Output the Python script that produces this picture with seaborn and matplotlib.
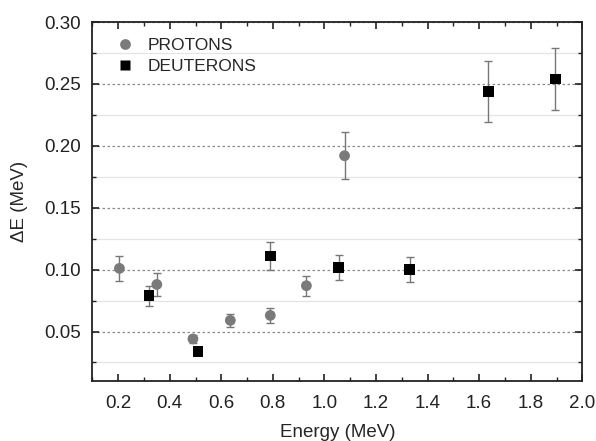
import numpy as np
import pandas as pd
import seaborn as sns
import matplotlib.pyplot as plt
from matplotlib.ticker import MultipleLocator

# values
proton_energy = [0.205, 0.35, 0.49, 0.635, 0.79, 0.93, 1.078]
proton_de = [0.101, 0.088, 0.044, 0.059, 0.063, 0.087, 0.192]
proton_err = [0.010, 0.009, 0.003, 0.005, 0.006, 0.008, 0.019]

deuteron_energy = [0.32, 0.51, 0.79, 1.055, 1.33, 1.635, 1.895]
deuteron_de = [0.079, 0.034, 0.111, 0.102, 0.100, 0.244, 0.254]
deuteron_err = [0.008, 0.002, 0.011, 0.010, 0.010, 0.0245, 0.025]

sns.set_theme(style="ticks")
plt.rcParams['font.family'] = ['Liberation Sans', 'DejaVu Sans']

df = pd.concat([
    pd.DataFrame({"energy": proton_energy, "de": proton_de, "err": proton_err, "kind": "PROTONS"}),
    pd.DataFrame({"energy": deuteron_energy, "de": deuteron_de, "err": deuteron_err, "kind": "DEUTERONS"}),
])

fig, ax = plt.subplots(figsize=(5.96, 4.41), dpi=100)

# error bars first, scatter points on top
for kind, sub in df.groupby("kind"):
    ax.errorbar(sub["energy"], sub["de"], yerr=sub["err"], fmt="none",
                ecolor="#777777", elinewidth=1.0, capsize=3, capthick=1.0, zorder=2)

sns.scatterplot(data=df, x="energy", y="de", hue="kind", style="kind",
                palette={"PROTONS": "#7a7a7a", "DEUTERONS": "#000000"},
                markers={"PROTONS": "o", "DEUTERONS": "s"},
                s=60, edgecolor="none", ax=ax, zorder=3)

ax.set_xlim(0.1, 2.0)
ax.set_ylim(0.01, 0.30)
ax.xaxis.set_minor_locator(MultipleLocator(0.1))
ax.yaxis.set_minor_locator(MultipleLocator(0.025))
ax.set_xticks(np.arange(0.2, 2.01, 0.2))
ax.set_xticklabels([f"{v:.1f}" for v in np.arange(0.2, 2.01, 0.2)])
ax.set_yticks(np.arange(0.05, 0.301, 0.05))
ax.set_yticklabels([f"{v:.2f}" for v in np.arange(0.05, 0.301, 0.05)])

ax.grid(True, which="major", axis="y", linestyle=(0, (2, 2)), color="#8a8a8a", linewidth=0.9)
ax.grid(True, which="minor", axis="y", linestyle="-", color="#e4e4e4", linewidth=0.9)
ax.set_axisbelow(True)

ax.tick_params(which="both", direction="in", top=True, right=True, colors="#222222",
               labelsize=13.5)
ax.tick_params(which="major", length=5, width=1.2)
ax.tick_params(which="minor", length=3, width=1.0)
ax.tick_params(axis="x", which="major", pad=10)
ax.tick_params(axis="y", which="major", pad=8)
for sp in ax.spines.values():
    sp.set_linewidth(1.3)
    sp.set_color("#222222")

ax.set_xlabel("Energy (MeV)", fontsize=13.5, labelpad=9)
ax.set_ylabel("ΔE (MeV)", fontsize=13.5, labelpad=12)

ax.legend(title=None, loc="upper left", frameon=False, fontsize=12.5,
          handletextpad=0.3, borderaxespad=0.5, labelspacing=0.35)

plt.subplots_adjust(left=0.155, right=0.977, top=0.95, bottom=0.136)
plt.savefig("out.png", dpi=100)
